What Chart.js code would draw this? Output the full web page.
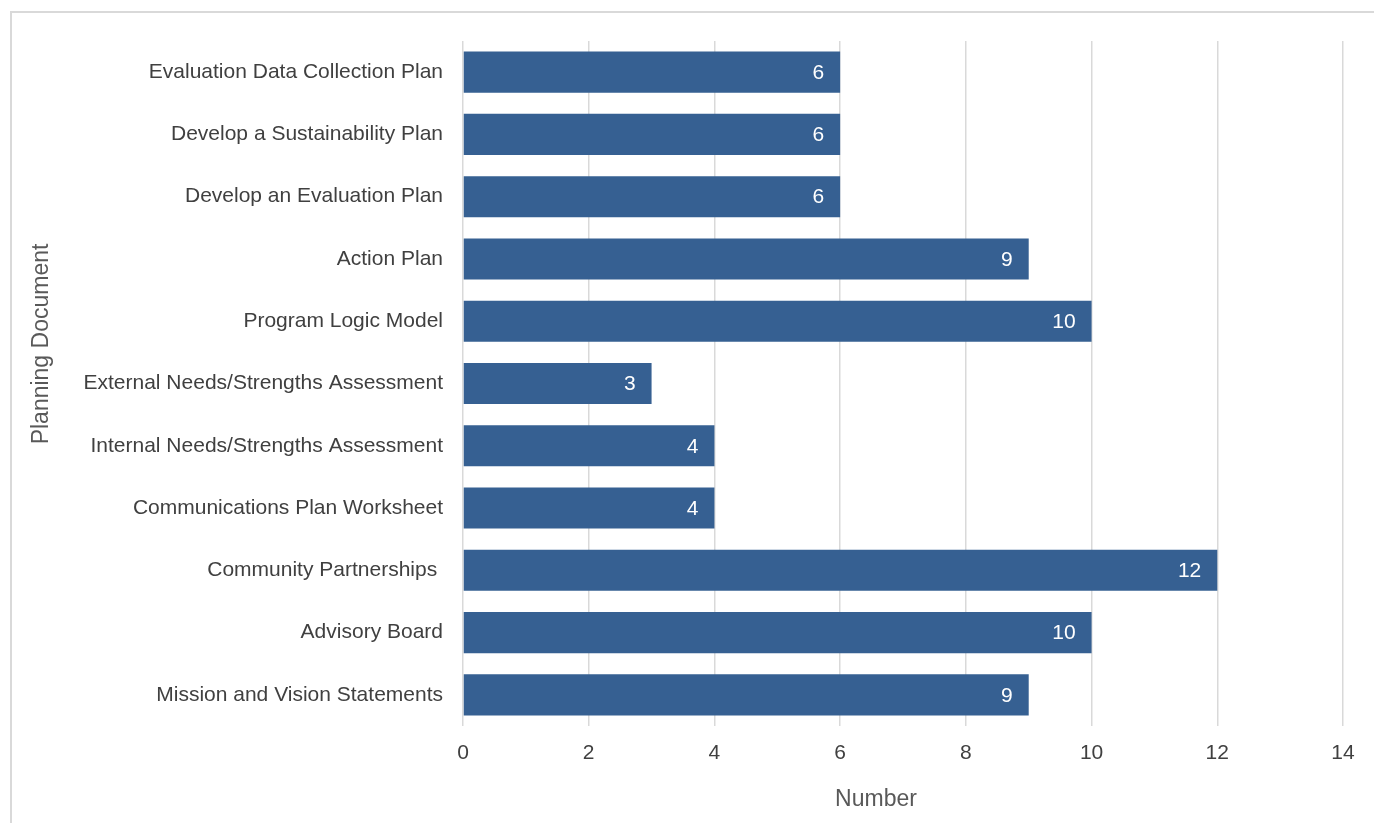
<!DOCTYPE html>
<html>
<head>
<meta charset="utf-8">
<script src="https://cdn.jsdelivr.net/npm/chart.js@4"></script>
<style>
  html, body { margin: 0; padding: 0; background: #fff; overflow: hidden; }
  #frame { position: absolute; left: 10px; top: 11px; width: 1400px; height: 850px;
           border-left: 2px solid #d9d9d9; border-top: 2px solid #d9d9d9; box-sizing: border-box; }
  #myChart { position: absolute; left: 0; top: 0; }
</style>
</head>
<body>
<div id="frame"></div>
<canvas id="myChart" width="1374" height="823"></canvas>
<script>
var categories = [
    'Evaluation Data Collection Plan',
    'Develop a Sustainability Plan',
    'Develop an Evaluation Plan',
    'Action Plan',
    'Program Logic Model',
    'External Needs/Strengths Assessment',
    'Internal Needs/Strengths Assessment',
    'Communications Plan Worksheet',
    'Community Partnerships ',
    'Advisory Board',
    'Mission and Vision Statements'
];
var counts = [6, 6, 6, 9, 10, 3, 4, 4, 12, 10, 9];
var xTicks = [0, 2, 4, 6, 8, 10, 12, 14];

var FONT = "'Liberation Sans', Arial, sans-serif";

// white numbers at the end of each bar
var barLabels = {
    id: 'barLabels',
    afterDatasetsDraw: function(chart) {
        var c = chart.ctx;
        var meta = chart.getDatasetMeta(0);
        c.save();
        c.fillStyle = '#ffffff';
        c.font = '21px ' + FONT;
        c.textAlign = 'right';
        c.textBaseline = 'middle';
        meta.data.forEach(function(bar, i) {
            c.fillText(String(counts[i]), bar.x - 16, bar.y + 1);
        });
        c.restore();
    }
};

// axis titles, placed where the original puts them
var axisTitles = {
    id: 'axisTitles',
    afterDraw: function(chart) {
        var c = chart.ctx;
        c.save();
        c.fillStyle = '#595959';
        c.font = '23px ' + FONT;
        c.textAlign = 'center';
        c.textBaseline = 'middle';
        c.fillText('Number', 876, 800);
        c.translate(42, 344);
        c.rotate(-Math.PI / 2);
        c.fillText('Planning Document', 0, 0);
        c.restore();
    }
};

var ctx = document.getElementById('myChart');
var myChart = new Chart(ctx, {
    type: 'bar',
    data: {
        labels: categories,
        datasets: [{
            label: 'Number',
            data: counts,
            backgroundColor: '#366092',
            barPercentage: 0.66,
            categoryPercentage: 1.0
        }]
    },
    options: {
        indexAxis: 'y',
        responsive: false,
        animation: false,
        layout: { padding: { left: 10, top: 41, right: 31, bottom: 0 } },
        plugins: {
            legend: { display: false },
            tooltip: { enabled: false }
        },
        scales: {
            x: {
                min: 0,
                max: 14,
                afterFit: function(scale) { scale.height = 97; },
                afterBuildTicks: function(scale) {
                    scale.ticks = xTicks.map(function(v) { return { value: v }; });
                },
                grid: { color: '#d9d9d9', lineWidth: 1.5, drawTicks: false },
                border: { display: false },
                ticks: { color: '#404040', font: { family: FONT, size: 21 }, padding: 15 }
            },
            y: {
                afterFit: function(scale) { scale.width = 453; },
                grid: { display: false, drawTicks: false },
                border: { display: false },
                ticks: { color: '#404040', font: { family: FONT, size: 21 }, padding: 20 }
            }
        }
    },
    plugins: [barLabels, axisTitles]
});
</script>
</body>
</html>
